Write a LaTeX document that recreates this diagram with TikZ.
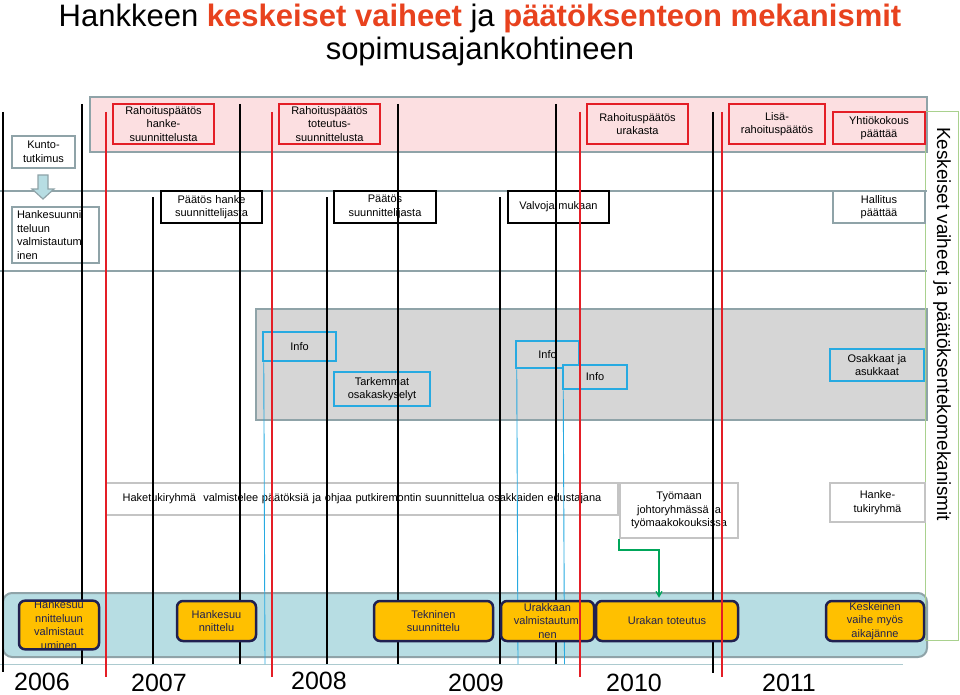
\documentclass[tikz,border=0pt]{standalone}
\usepackage{fontspec}
\setmainfont{Liberation Sans}
\usepackage{xcolor}
\definecolor{titlered}{RGB}{232,66,30}
\definecolor{rahared}{RGB}{228,30,38}
\definecolor{pinkband}{RGB}{252,223,225}
\definecolor{bandgray}{RGB}{143,163,168}
\definecolor{grayband}{RGB}{214,214,214}
\definecolor{tealband}{RGB}{183,221,227}
\definecolor{infoblue}{RGB}{39,170,225}
\definecolor{boxorange}{RGB}{255,192,0}
\definecolor{navy}{RGB}{32,32,80}
\definecolor{lightgray}{RGB}{196,196,196}
\definecolor{arrowgreen}{RGB}{0,166,90}
\definecolor{sidegreen}{RGB}{169,209,142}
\usepackage{tikz}
\usetikzlibrary{arrows}

\begin{document}
\begin{tikzpicture}[auto,>=angle 60,x=1pt,y=-1pt,font=\fontsize{11}{13.5}\selectfont]
%\draw [help lines] (0,0) grid (960,695);
\tikzset{
	boxA/.style={
  		rectangle,
  		inner sep=0pt,
  		align=center,
  		draw=rahared,
  		line width=2.5pt,
  		fill=pinkband,
  		minimum height = 40pt
  	},
  	boxB/.style={
  		rectangle,
  		inner sep=0pt,
  		align=center,
  		draw=black,
  		line width=2.5pt,
  		fill=white,
  		minimum height = 32pt
  	},
  	boxB1/.style={
  		rectangle,
  		inner sep=0pt,
  		align=center,
  		draw=bandgray,
  		line width=2.2pt,
  		fill=white,
  		minimum height = 32pt
  	},
  	boxC/.style={
  		rectangle,
  		inner sep=0pt,
  		align=center,
  		draw=infoblue,
  		line width=2.5pt,
  		fill=grayband
  	},
  	boxD/.style={
  		rectangle,
  		inner sep=0pt,
  		align=center,
  		draw=lightgray,
  		line width=2pt,
  		fill=white
  	},
  	boxE/.style={
  		rectangle,
  		inner sep=0pt,
  		align=center,
  		draw=bandgray,
  		line width=2.5pt,
  		fill=white
  	},
  	boxF/.style={
  		rectangle,
  		rounded corners=6pt,
  		inner sep=0pt,
  		align=center,
  		draw=navy,
  		line width=2.5pt,
  		fill=boxorange,
  		text=navy,
  		minimum height = 40pt
  	},
  	year/.style={anchor=base, inner sep=0pt, font=\fontsize{25}{30}\selectfont},
  	lineK/.style={black, line width=2.8pt},
  	lineR/.style={rahared, line width=2.8pt},
  	lineI/.style={infoblue, line width=0.9pt}
  }
\useasboundingbox (0,0) rectangle (960,695);

% title
\node (t1) [anchor=base] at (480,27) {\fontsize{31}{36}\selectfont Hankkeen \textbf{\color{titlered}keskeiset vaiheet} ja \textbf{\color{titlered}päätöksenteon mekanismit}};
\node (t2) [anchor=base] at (480,60) {\fontsize{31}{36}\selectfont sopimusajankohtineen};

% bands
\draw [bandgray, line width=2pt, fill=pinkband] (90,97) rectangle (927,152);
\draw [bandgray, line width=2pt] (0,191) -- (927,191);
\draw [bandgray, line width=2pt] (0,271) -- (927,271);
\draw [bandgray, line width=2pt, fill=grayband] (256,309) rectangle (927,420);
\draw [bandgray, line width=2pt, fill=tealband, rounded corners=9pt] (3,593) rectangle (927,657);
\draw [tealband!80!gray, line width=1pt] (0,664) -- (903,664);
\draw [sidegreen, line width=1pt] (925,112) rectangle (958,640);
\node (v) [rotate=-90] at (942,324) {\fontsize{19}{23}\selectfont Keskeiset vaiheet ja päätöksentekomekanismit};

% left column
\node (a) [boxE, text width=63pt, minimum height=32pt] at (43.5,152) {Kunto-\\tutkimus};
\node (a1) [boxE, text width=77pt, inner xsep=5pt, minimum height=56pt, align=left] at (55.5,235) {Hankesuunni\\tteluun\\valmistautum\\inen};
\draw [bandgray, fill=tealband, line width=1.2pt] (38,175) -- (48,175) -- (48,189) -- (54,189) -- (43,199) -- (32,189) -- (38,189) -- cycle;

% rahoituspaatokset
\node (b1) [boxA, text width=101pt] at (163.5,124) {Rahoituspäätös\\hanke-\\suunnittelusta};
\node (b2) [boxA, text width=101pt] at (329.5,124) {Rahoituspäätös\\toteutus-\\suunnittelusta};
\node (b3) [boxA, text width=101pt] at (637.5,124) {Rahoituspäätös\\urakasta};
\node (b4) [boxA, text width=96pt] at (777,124) {Lisä-\\rahoituspäätös};
\node (b5) [boxA, text width=92pt, minimum height=32pt] at (879,128) {Yhtiökokous\\päättää};

% paatokset
\node (c1) [boxB, text width=101pt] at (211.5,207) {Päätös hanke\\suunnittelijasta};
\node (c2) [boxB, text width=102pt] at (385,207) {Päätös\\suunnittelijasta};
\node (c3) [boxB, text width=101pt] at (558.5,207) {Valvoja mukaan};
\node (c4) [boxB1, text width=92pt] at (879,207) {Hallitus\\päättää};

% info
\node (d1) [boxC, text width=73pt, minimum height=29pt] at (299.5,346.5) {Info};
\node (d2) [boxC, text width=96pt, minimum height=34pt] at (382,389) {Tarkemmat\\osakaskyselyt};
\node (d3) [boxC, text width=63pt, minimum height=27pt] at (547.5,354.5) {Info};
\node (d4) [boxC, text width=64pt, minimum height=24pt] at (595,377) {Info};
\node (d5) [boxC, text width=94pt, minimum height=32pt] at (877,365) {Osakkaat ja\\asukkaat};

% tukiryhma
\node (e1) [boxD, text width=512pt, minimum height=32pt] at (362,499) {Haketukiryhmä\ \ valmistelee päätöksiä ja ohjaa putkiremontin suunnittelua osakkaiden edustajana};
\node (e2) [boxD, text width=118pt, minimum height=55pt] at (679,510.5) {Työmaan\\johtoryhmässä ja\\työmaakokouksissa};
\node (e3) [boxD, text width=95pt, minimum height=39pt] at (877.5,502.5) {Hanke-\\tukiryhmä};

% time lines
\draw [lineK] (3,112) -- (3,672);
\draw [lineK] (82,104) -- (82,664);
\draw [lineK] (153,197) -- (153,664);
\draw [lineK] (240,104) -- (240,664);
\draw [lineK] (327,197) -- (327,664);
\draw [lineK] (398,104) -- (398,664);
\draw [lineK] (500,197) -- (500,664);
\draw [lineK] (556,104) -- (556,664);
\draw [lineK] (713,112) -- (713,673);
\draw [lineI] ([xshift=2pt]d1.south west) -- (265,664);
\draw [lineI] ([xshift=2pt]d3.south west) -- (518,664);
\draw [lineI] ([xshift=1.5pt]d4.south west) -- (564.5,664);

% vaiheet
\node (f1) [boxF, text width=80pt, minimum height=48pt] at (59,625) {Hankesuu\\nnitteluun\\valmistaut\\uminen};
\node (f2) [boxF, text width=79pt] at (216.5,621) {Hankesuu\\nnittelu};
\node (f3) [boxF, text width=119pt] at (433.5,621) {Tekninen\\suunnittelu};
\node (f4) [boxF, text width=93pt] at (547.5,621) {Urakkaan\\valmistautumi\\nen};
\node (f5) [boxF, text width=142pt] at (667,621) {Urakan toteutus};
\node (f6) [boxF, text width=98pt] at (875,621) {Keskeinen\\vaihe myös\\aikajänne};
\draw [->, arrowgreen, line width=1.3pt, shorten >=2pt] (e2.south west) -- ++(0,11) -| ([xshift=-8pt]f5.north);

% rahoitus lines
\draw [lineR] (106,112) -- (106,677);
\draw [lineR] (272,112) -- (272,677);
\draw [lineR] (580,112) -- (580,677);
\draw [lineR] (722,112) -- (722,677);

% years
\node (y1) [year] at (42,690) {2006};
\node (y2) [year] at (159,691) {2007};
\node (y3) [year] at (319,689) {2008};
\node (y4) [year] at (476,691) {2009};
\node (y5) [year] at (634,691) {2010};
\node (y6) [year] at (789,691) {2011};
\end{tikzpicture}
\end{document}
